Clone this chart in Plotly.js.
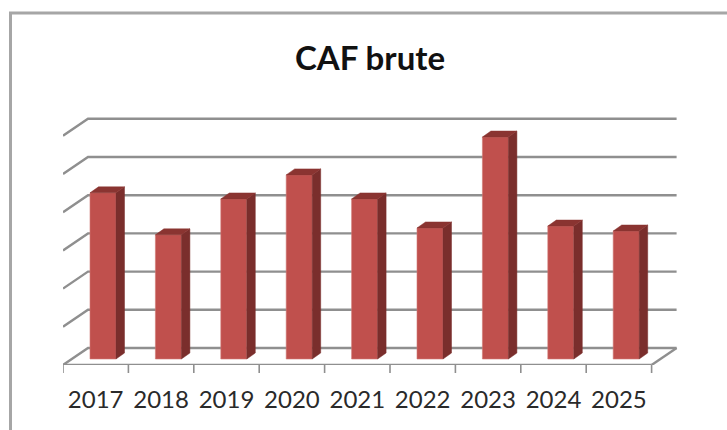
<!DOCTYPE html>
<html><head><meta charset="utf-8">
<script src="https://cdn.plot.ly/plotly-3.0.1.min.js"></script>
<style>html,body{margin:0;padding:0;background:#fff}#c{width:727px;height:430px}</style>
</head><body><div id="c"></div>
<script>
const categories = ['2017','2018','2019','2020','2021','2022','2023','2024','2025'];
const values = [4.35,3.25,4.19,4.82,4.19,3.43,5.81,3.48,3.35];
const gridLevels = [0,1,2,3,4,5,6];

// depth of the fake-3D chart, in axis units
const W = 727, H = 430;
const plot = {l:63, r:678, t:100, b:365};
const xUnit = 65.4, yUnit = 38.2;
const wallDx = 25/xUnit, wallDy = 17/yUnit;
const barW = 26/xUnit, barDx = 8.5/xUnit, barDy = 6/yUnit;
const barBase = 6/yUnit, barShift = 7.3/xUnit;
const xMax = categories.length;

const gx=[], gy=[];
gridLevels.forEach(k=>{ gx.push(0,wallDx,xMax+wallDx,null); gy.push(k,k+wallDy,k+wallDy,null); });
gx.push(xMax,xMax+wallDx,null); gy.push(0,wallDy,null);

const centers = categories.map((c,i)=>i+.5+barShift);
const sx=[],sy=[],tx=[],ty=[];
values.forEach((v,i)=>{
  const R=centers[i]+barW/2, L=centers[i]-barW/2, T=barBase+v;
  sx.push(R,R+barDx,R+barDx,R,R,null); sy.push(barBase,barBase+barDy,T+barDy,T,barBase,null);
  tx.push(L,L+barDx,R+barDx,R,L,null); ty.push(T,T+barDy,T+barDy,T,T,null);
});

const traces = [
 {type:'scatter',mode:'lines',x:gx,y:gy,line:{color:'#8f8f8f',width:2.4},hoverinfo:'skip',showlegend:false},
 {type:'bar',xaxis:'x2',yaxis:'y2',x:centers,y:values,base:barBase,width:barW,marker:{color:'#c0504d',line:{color:'#d07a76',width:.6}},showlegend:false},
 {type:'scatter',xaxis:'x2',yaxis:'y2',mode:'lines',x:sx,y:sy,fill:'toself',fillcolor:'#7a2e2c',line:{color:'#7a2e2c',width:.5},hoverinfo:'skip',showlegend:false},
 {type:'scatter',xaxis:'x2',yaxis:'y2',mode:'lines',x:tx,y:ty,fill:'toself',fillcolor:'#8a3431',line:{color:'#8a3431',width:.5},hoverinfo:'skip',showlegend:false}
];

const xr=[0,(plot.r-plot.l)/xUnit], yr=[0,(plot.b-plot.t)/yUnit];
const layout = {
 width:W,height:H,paper_bgcolor:'#fff',plot_bgcolor:'rgba(0,0,0,0)',showlegend:false,
 margin:{l:plot.l,r:W-plot.r,t:plot.t,b:H-plot.b,pad:0},
 title:{text:'<b>CAF brute</b>',font:{family:'Lato, sans-serif',size:33,color:'#111'},x:370/W,xanchor:'center',y:1-58/H,yanchor:'middle'},
 xaxis:{range:xr,tickmode:'array',
   tickvals:categories.map((c,i)=>i+.5),ticktext:categories,
   ticklen:0,showgrid:false,zeroline:false,showline:false,
   tickfont:{family:'Lato, sans-serif',size:24,color:'#2a2a2a'},ticklabelstandoff:18},
 yaxis:{range:yr,showticklabels:false,ticks:'',showgrid:false,zeroline:false,showline:false},
 xaxis2:{range:xr,overlaying:'x',anchor:'y2',visible:false},
 yaxis2:{range:yr,overlaying:'y',anchor:'x2',visible:false},
 shapes:[
  {type:'rect',xref:'paper',yref:'paper',x0:-52.5/615,x1:1+80/615,y0:-120/265,y1:1+87/265,line:{color:'#a6a6a6',width:3},fillcolor:'rgba(0,0,0,0)',layer:'below'},
  {type:'line',xref:'x',yref:'y',x0:0,x1:xMax,y0:0,y1:0,line:{color:'#8f8f8f',width:2.4},layer:'below'},
  ...Array.from({length:xMax+1},(_,i)=>({type:'line',xref:'x',yref:'paper',x0:i,x1:i,y0:0,y1:-8/265,line:{color:'#8f8f8f',width:1.6},layer:'below'}))
 ]
};
Plotly.newPlot('c',traces,layout,{displayModeBar:false,staticPlot:true});
</script></body></html>
